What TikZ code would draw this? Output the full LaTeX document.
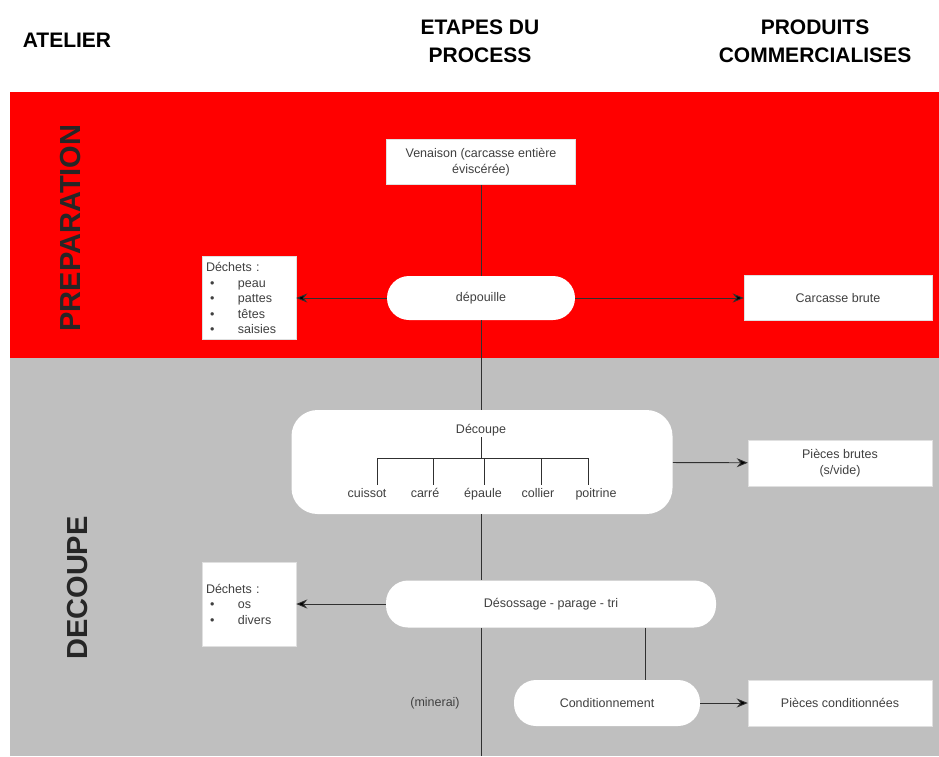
\documentclass[tikz,border=0pt]{standalone}
\usepackage{fontspec}
\setmainfont{Liberation Sans}
\usetikzlibrary{positioning,arrows.meta}
\definecolor{bandred}{HTML}{FF0000}
\definecolor{bandgray}{HTML}{BFBFBF}
\definecolor{txtgray}{HTML}{404040}
\definecolor{linegray}{HTML}{303030}
\begin{document}
\begin{tikzpicture}[x=1pt,y=-1pt,->,>={Stealth[length=11pt,width=9pt]},thick,
    head/.style={font=\fontsize{21}{28}\selectfont\bfseries,align=center,text=black},
    atelier/.style={font=\fontsize{29}{30}\selectfont\bfseries,rotate=90,text=black!85},
    box/.style={draw=black!12,line width=0.5pt,fill=white,text=txtgray,
        font=\fontsize{12.5}{16}\selectfont,align=center,inner sep=2pt},
    pill/.style={box,draw=none,rounded corners=22pt},
    dechets/.style={box,align=left,text width=86pt,font=\fontsize{12.5}{15.5}\selectfont},
    part/.style={text=txtgray,font=\fontsize{12.5}{15}\selectfont,inner sep=1pt,anchor=base},
    link/.style={draw=linegray,line width=0.9pt}]

    \useasboundingbox (0,0) rectangle (939,756);
    \fill[bandred] (10,92) rectangle (939,358);
    \fill[bandgray] (10,358) rectangle (939,756);

    % headers
    \node[head] (hatelier) at (67,40) {ATELIER};
    \node[head] (hetapes) at (480,41) {ETAPES DU\\PROCESS};
    \node[head] (hproduits) at (815,41) {PRODUITS\\COMMERCIALISES};
    \node[atelier] (prep) at (71,228) {PREPARATION};
    \node[atelier] (decoup) at (78,588) {DECOUPE};

    % preparation
    \node[box,minimum width=189pt,minimum height=45pt] (venaison) at (481,162)
        {Venaison (carcasse entière\\éviscérée)};
    \node[pill,minimum width=188pt,minimum height=44pt] (depouille) at (481,298) {dépouille};
    \node[box,minimum width=188pt,minimum height=45pt] (carcasse) at (838,298) {Carcasse brute};
    \node[dechets,minimum width=94pt,minimum height=83pt] (dechets1) at (249,298)
        {Déchets :\\
         \hspace*{4pt}\makebox[28pt][l]{\textbullet}peau\\
         \hspace*{4pt}\makebox[28pt][l]{\textbullet}pattes\\
         \hspace*{4pt}\makebox[28pt][l]{\textbullet}têtes\\
         \hspace*{4pt}\makebox[28pt][l]{\textbullet}saisies};

    % decoupe
    \node[pill,rounded corners=26pt,minimum width=381pt,minimum height=104pt] (decoupe) at (482,462) {};
    \node[part,anchor=center] (decoupelab) at (481,430) {Découpe};
    \node[box,minimum width=184pt,minimum height=46pt] (pbrutes) at (840,463) {Pièces brutes\\(s/vide)};
    \node[pill,minimum width=330pt,minimum height=47pt] (desossage) at (551,604) {Désossage - parage - tri};
    \node[dechets,minimum width=94pt,minimum height=84pt] (dechets2) at (249,604)
        {Déchets :\\
         \hspace*{4pt}\makebox[28pt][l]{\textbullet}os\\
         \hspace*{4pt}\makebox[28pt][l]{\textbullet}divers\\[15.5pt]};
    \node[pill,minimum width=186pt,minimum height=46pt] (condit) at (607,703) {Conditionnement};
    \node[box,minimum width=184pt,minimum height=46pt] (pcondit) at (840,703) {Pièces conditionnées};
    \node[part,anchor=center] (minerai) at (435,703) {(minerai)};
    \coordinate (bas) at (481,756);

    % tree of the cuts
    \coordinate (bar) at (481,458);
    \draw[-,link] (decoupelab.south) -- (bar);
    \draw[-,link] (377,458) -- (588,458);
    \foreach \x/\lx/\lab [count=\i] in {377/367/cuissot,433/425/carré,484/483/épaule,
                                        541/538/collier,588/596/poitrine}
    {
        \coordinate (t\i) at (\x,458);
        \node[part] (p\i) at (\lx,497) {\lab};
        \draw[-,link] (t\i) -- ++(0,27);
    }

    % connectors
    \draw[-,link] (venaison) -- (depouille);
    \draw[-,link] (depouille) -- (decoupe.north -| depouille);
    \draw[-,link] (decoupe.south -| bas) -- (desossage.north -| bas);
    \draw[-,link] (desossage.south -| bas) -- (bas);
    \draw[-,link] (desossage.south -| 645,0) -- (condit.north -| 645,0);
    \path[link]
    (depouille) edge (dechets1)
    (depouille) edge (carcasse)
    (decoupe) edge (pbrutes)
    (desossage) edge (dechets2.east |- desossage)
    (condit) edge (pcondit);

\end{tikzpicture}
\end{document}
